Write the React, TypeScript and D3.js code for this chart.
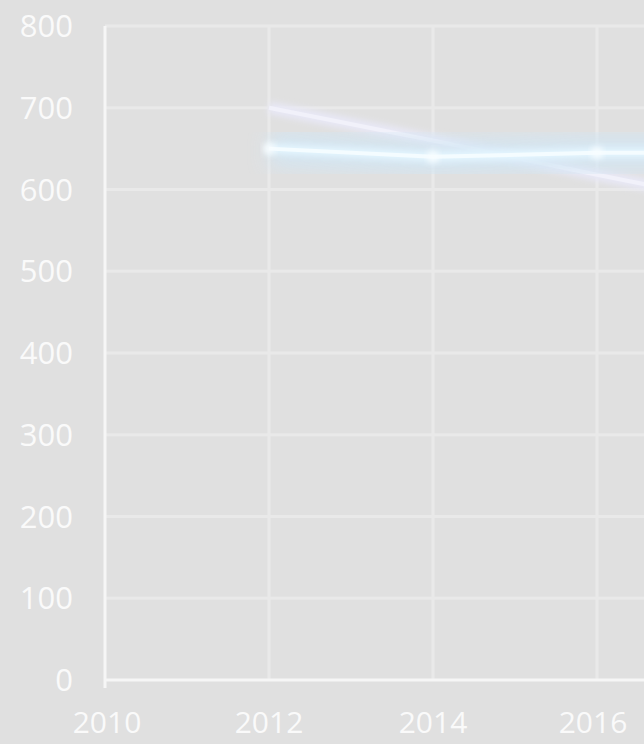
import { useRef, useEffect } from 'react'
import * as d3 from 'd3'

const WIDTH = 644
const HEIGHT = 744

const years = [2012, 2014, 2016, 2018]
const seriesA = [650, 640, 645, 645]
const seriesB = [700, 660, 618, 578]
const yTicks = [0, 100, 200, 300, 400, 500, 600, 700, 800]
const xTicks = [2010, 2012, 2014, 2016]

const BG = '#e0e0e0'
const GRID = '#e9e9e9'
const AXIS = '#f6f6f6'
const TEXT = '#fafafa'
const FONT = '"Open Sans", sans-serif'

export default function App() {
  const svgRef = useRef<SVGSVGElement>(null)

  useEffect(() => {
    document.body.style.margin = '0'
    if (!svgRef.current) return
    const svg = d3.select(svgRef.current)
    svg.selectAll('*').remove()

    const x = d3.scaleLinear().domain([2010, 2018]).range([105, 105 + 82 * 8])
    const y = d3.scaleLinear().domain([0, 800]).range([680, 26])

    svg.append('rect').attr('width', WIDTH).attr('height', HEIGHT).attr('fill', BG)

    const defs = svg.append('defs')
    const glow = defs.append('filter').attr('id', 'glow').attr('x', '-20%').attr('y', '-200%').attr('width', '140%').attr('height', '500%')
    glow.append('feGaussianBlur').attr('in', 'SourceGraphic').attr('stdDeviation', 10)
    const glow2 = defs.append('filter').attr('id', 'glow2').attr('x', '-20%').attr('y', '-200%').attr('width', '140%').attr('height', '500%')
    glow2.append('feGaussianBlur').attr('in', 'SourceGraphic').attr('stdDeviation', 3)

    // gridlines
    svg.append('g')
      .selectAll('line')
      .data(yTicks.slice(1))
      .join('line')
      .attr('x1', x(2010))
      .attr('x2', WIDTH)
      .attr('y1', (d) => y(d))
      .attr('y2', (d) => y(d))
      .attr('stroke', GRID)
      .attr('stroke-width', 3)

    svg.append('g')
      .selectAll('line')
      .data(xTicks.slice(1))
      .join('line')
      .attr('x1', (d) => x(d))
      .attr('x2', (d) => x(d))
      .attr('y1', y(800))
      .attr('y2', y(0))
      .attr('stroke', GRID)
      .attr('stroke-width', 3)

    // axes
    svg.append('line')
      .attr('x1', x(2010)).attr('x2', x(2010))
      .attr('y1', y(800)).attr('y2', y(0) + 8)
      .attr('stroke', AXIS).attr('stroke-width', 3)
    svg.append('line')
      .attr('x1', x(2010)).attr('x2', WIDTH)
      .attr('y1', y(0)).attr('y2', y(0))
      .attr('stroke', AXIS).attr('stroke-width', 3)

    // y labels
    svg.append('g')
      .selectAll('text')
      .data(yTicks)
      .join('text')
      .attr('x', 73)
      .attr('y', (d) => y(d))
      .attr('dy', '0.36em')
      .attr('text-anchor', 'end')
      .attr('fill', TEXT)
      .style('font-family', FONT)
      .style('font-size', '31px')
      .text((d) => d)

    // x labels
    svg.append('g')
      .selectAll('text')
      .data(xTicks)
      .join('text')
      .attr('x', (d) => x(d) + (d === 2010 ? 2 : d === 2016 ? -4 : 0))
      .attr('y', 733)
      .attr('text-anchor', 'middle')
      .attr('fill', TEXT)
      .style('font-family', FONT)
      .style('font-size', '30px')
      .text((d) => d)

    const lineGen = d3.line<number>().x((_, i) => x(years[i])).y((d) => y(d))

    // series B: faint trend
    svg.append('path').datum(seriesB).attr('d', lineGen)
      .attr('fill', 'none').attr('stroke', '#e8e8f6').attr('stroke-width', 12)
      .attr('filter', 'url(#glow2)')
    svg.append('path').datum(seriesB).attr('d', lineGen)
      .attr('fill', 'none').attr('stroke', '#f1f1fa').attr('stroke-width', 4)

    // series A: glowing line
    svg.append('path').datum(seriesA).attr('d', lineGen)
      .attr('fill', 'none').attr('stroke', '#d2e6f4').attr('stroke-width', 36)
      .attr('opacity', 0.85)
      .attr('filter', 'url(#glow)')
    svg.append('path').datum(seriesA).attr('d', lineGen)
      .attr('fill', 'none').attr('stroke', '#e4f6ff').attr('stroke-width', 10)
      .attr('filter', 'url(#glow2)')
    svg.append('path').datum(seriesA).attr('d', lineGen)
      .attr('fill', 'none').attr('stroke', '#f4fcff').attr('stroke-width', 4)

    svg.append('g')
      .selectAll('circle')
      .data(seriesA)
      .join('circle')
      .attr('cx', (_, i) => x(years[i]))
      .attr('cy', (d) => y(d))
      .attr('r', 6)
      .attr('fill', '#f8fdff')
      .attr('filter', 'url(#glow2)')
  }, [])

  return <svg ref={svgRef} width={WIDTH} height={HEIGHT} style={{ display: 'block' }} />
}
